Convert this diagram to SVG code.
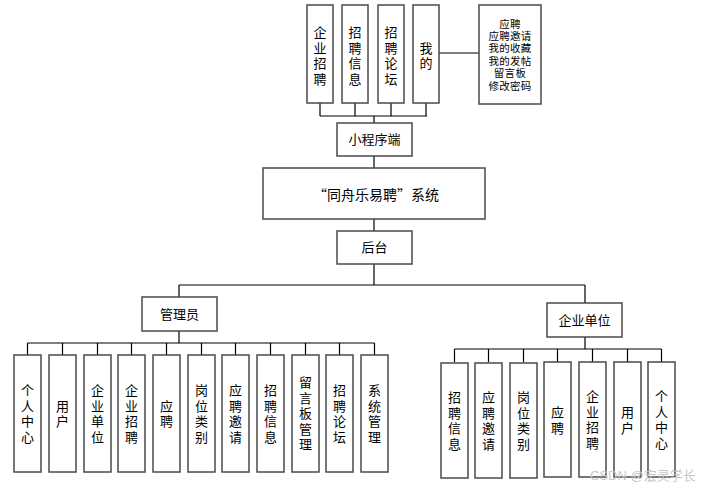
<svg xmlns="http://www.w3.org/2000/svg" width="701" height="488" viewBox="0 0 701 488">
<style>
rect{fill:#fff;stroke:#4a4a4a;stroke-width:1.5}
text{font-family:"Liberation Sans","Noto Sans CJK SC",sans-serif;font-size:13px;fill:#000;text-anchor:middle;dominant-baseline:central}
.s{font-size:10.5px;letter-spacing:0.3px}
.t{font-size:14px;font-family:"Noto Sans CJK SC","Liberation Sans",sans-serif}
#connectors path{fill:none;stroke:#000;stroke-width:1.2}
.wm{font-size:13px;fill:#c8c8c8;text-anchor:start}
</style>
<rect x="0" y="0" width="701" height="488" style="stroke:none;fill:#fff"/>
<g id="connectors">
<path d="M320 103V116M355 103V116M391 103V116M426 103V116M320 116H427M374 116V123"/>
<path d="M439 53H479"/>
<path d="M374 156V168M374 219V231M374 264V285M179 285H585M179 285V297M585 285V303"/>
<path d="M179 331V343M27.5 343H374.5M27.5 343V355M62.5 343V355M97.5 343V355M131.5 343V355M166.5 343V355M201.5 343V355M235.5 343V355M270.5 343V355M305.5 343V355M339.5 343V355M374.5 343V355"/>
<path d="M585 337V349M454.5 349H661.5M454.5 349V362M488.5 349V362M523.5 349V362M557.5 349V362M592.5 349V362M627.5 349V362M661.5 349V362"/>
</g>
<g id="n_qyzp"><rect x="307" y="5" width="26" height="98"/><text><tspan x="320" y="32">企</tspan><tspan x="320" y="47.5">业</tspan><tspan x="320" y="63">招</tspan><tspan x="320" y="78.5">聘</tspan></text></g>
<g id="n_zpxx"><rect x="342" y="5" width="26" height="98"/><text><tspan x="355" y="32">招</tspan><tspan x="355" y="47.5">聘</tspan><tspan x="355" y="63">信</tspan><tspan x="355" y="78.5">息</tspan></text></g>
<g id="n_zplt"><rect x="378" y="5" width="26" height="98"/><text><tspan x="391" y="32">招</tspan><tspan x="391" y="47.5">聘</tspan><tspan x="391" y="63">论</tspan><tspan x="391" y="78.5">坛</tspan></text></g>
<g id="n_wode"><rect x="413" y="5" width="26" height="98"/><text><tspan x="426" y="47.5">我</tspan><tspan x="426" y="63">的</tspan></text></g>
<g id="n_wode_list"><rect x="479" y="5" width="62" height="99"/><text class="s"><tspan x="510" y="23.5">应聘</tspan><tspan x="510" y="35.9">应聘邀请</tspan><tspan x="510" y="48.3">我的收藏</tspan><tspan x="510" y="60.7">我的发帖</tspan><tspan x="510" y="73.1">留言板</tspan><tspan x="510" y="85.5">修改密码</tspan></text></g>
<g id="n_xcx"><rect x="337" y="123" width="75" height="33"/><text x="374.5" y="139.5">小程序端</text></g>
<g id="n_sys"><rect x="263" y="168" width="222" height="51"/><text class="t" x="376" y="194">“同舟乐易聘”系统</text></g>
<g id="n_ht"><rect x="337" y="231" width="75" height="33"/><text x="374.5" y="247.5">后台</text></g>
<g id="n_admin"><rect x="142" y="297" width="75" height="34"/><text x="179.5" y="314">管理员</text></g>
<g id="n_ent"><rect x="547" y="303" width="75" height="34"/><text x="584.5" y="320">企业单位</text></g>
<g id="a1"><rect x="14" y="355" width="27" height="117"/><text><tspan x="27.5" y="390">个</tspan><tspan x="27.5" y="405.5">人</tspan><tspan x="27.5" y="421">中</tspan><tspan x="27.5" y="436.5">心</tspan></text></g>
<g id="a2"><rect x="49" y="355" width="27" height="117"/><text><tspan x="62.5" y="405.5">用</tspan><tspan x="62.5" y="421">户</tspan></text></g>
<g id="a3"><rect x="84" y="355" width="27" height="117"/><text><tspan x="97.5" y="390">企</tspan><tspan x="97.5" y="405.5">业</tspan><tspan x="97.5" y="421">单</tspan><tspan x="97.5" y="436.5">位</tspan></text></g>
<g id="a4"><rect x="118" y="355" width="27" height="117"/><text><tspan x="131.5" y="390">企</tspan><tspan x="131.5" y="405.5">业</tspan><tspan x="131.5" y="421">招</tspan><tspan x="131.5" y="436.5">聘</tspan></text></g>
<g id="a5"><rect x="153" y="355" width="27" height="117"/><text><tspan x="166.5" y="405.5">应</tspan><tspan x="166.5" y="421">聘</tspan></text></g>
<g id="a6"><rect x="188" y="355" width="27" height="117"/><text><tspan x="201.5" y="390">岗</tspan><tspan x="201.5" y="405.5">位</tspan><tspan x="201.5" y="421">类</tspan><tspan x="201.5" y="436.5">别</tspan></text></g>
<g id="a7"><rect x="222" y="355" width="27" height="117"/><text><tspan x="235.5" y="390">应</tspan><tspan x="235.5" y="405.5">聘</tspan><tspan x="235.5" y="421">邀</tspan><tspan x="235.5" y="436.5">请</tspan></text></g>
<g id="a8"><rect x="257" y="355" width="27" height="117"/><text><tspan x="270.5" y="390">招</tspan><tspan x="270.5" y="405.5">聘</tspan><tspan x="270.5" y="421">信</tspan><tspan x="270.5" y="436.5">息</tspan></text></g>
<g id="a9"><rect x="292" y="355" width="27" height="117"/><text><tspan x="305.5" y="382">留</tspan><tspan x="305.5" y="397.5">言</tspan><tspan x="305.5" y="413">板</tspan><tspan x="305.5" y="428.5">管</tspan><tspan x="305.5" y="444">理</tspan></text></g>
<g id="a10"><rect x="326" y="355" width="27" height="117"/><text><tspan x="339.5" y="390">招</tspan><tspan x="339.5" y="405.5">聘</tspan><tspan x="339.5" y="421">论</tspan><tspan x="339.5" y="436.5">坛</tspan></text></g>
<g id="a11"><rect x="361" y="355" width="27" height="117"/><text><tspan x="374.5" y="390">系</tspan><tspan x="374.5" y="405.5">统</tspan><tspan x="374.5" y="421">管</tspan><tspan x="374.5" y="436.5">理</tspan></text></g>
<g id="e1"><rect x="441" y="363" width="27" height="115"/><text><tspan x="454.5" y="397">招</tspan><tspan x="454.5" y="412.5">聘</tspan><tspan x="454.5" y="428">信</tspan><tspan x="454.5" y="443.5">息</tspan></text></g>
<g id="e2"><rect x="475" y="363" width="27" height="115"/><text><tspan x="488.5" y="397">应</tspan><tspan x="488.5" y="412.5">聘</tspan><tspan x="488.5" y="428">邀</tspan><tspan x="488.5" y="443.5">请</tspan></text></g>
<g id="e3"><rect x="510" y="363" width="27" height="115"/><text><tspan x="523.5" y="397">岗</tspan><tspan x="523.5" y="412.5">位</tspan><tspan x="523.5" y="428">类</tspan><tspan x="523.5" y="443.5">别</tspan></text></g>
<g id="e4"><rect x="544" y="362" width="27" height="115"/><text><tspan x="557.5" y="412">应</tspan><tspan x="557.5" y="427.5">聘</tspan></text></g>
<g id="e5"><rect x="579" y="362" width="27" height="115"/><text><tspan x="592.5" y="396">企</tspan><tspan x="592.5" y="411.5">业</tspan><tspan x="592.5" y="427">招</tspan><tspan x="592.5" y="442.5">聘</tspan></text></g>
<g id="e6"><rect x="614" y="362" width="27" height="115"/><text><tspan x="627.5" y="412">用</tspan><tspan x="627.5" y="427.5">户</tspan></text></g>
<g id="e7"><rect x="648" y="362" width="27" height="115"/><text><tspan x="661.5" y="396">个</tspan><tspan x="661.5" y="411.5">人</tspan><tspan x="661.5" y="427">中</tspan><tspan x="661.5" y="442.5">心</tspan></text></g>
<text class="wm" x="590" y="475">CSDN @宏灵学长</text>
</svg>
